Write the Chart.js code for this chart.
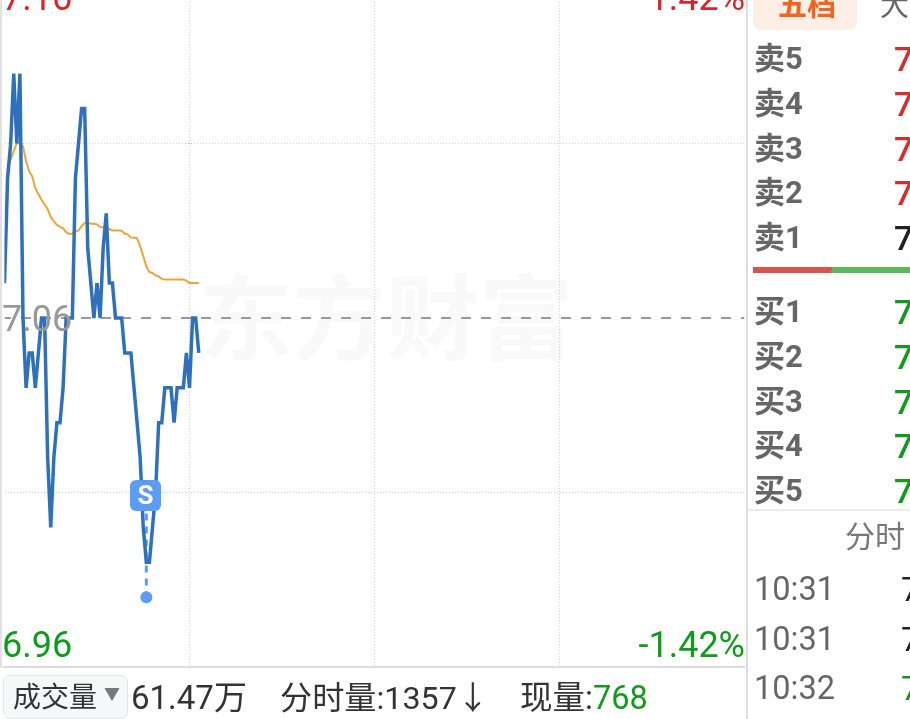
<!DOCTYPE html>
<html>
<head>
<meta charset="utf-8">
<script src="https://cdn.jsdelivr.net/npm/chart.js@4/dist/chart.umd.min.js"></script>
<style>
  html, body { margin: 0; padding: 0; background: #fff; width: 910px; height: 719px; overflow: hidden; }
  body { position: relative; font-family: Roboto, "Noto Sans CJK SC", sans-serif; }
  #chart { position: absolute; left: 0; top: -31px; }
  .t { position: absolute; white-space: nowrap; line-height: 40px; height: 40px; }
  .box { position: absolute; }
  #wm { position: absolute; left: 199px; top: 258px; font: 700 93.5px/110px "Noto Sans CJK SC"; color: #f9f9f9; white-space: nowrap; }
  #badge { position: absolute; left: 130px; top: 480px; width: 31px; height: 31px; border-radius: 6px; background: #5b9cf6;
           color: #fff; font: 700 26px/31px Roboto; text-align: center; }
</style>
</head>
<body>
<div id="wm">东方财富</div>
<canvas id="chart" width="746" height="698"></canvas>
<div class="box" style="left:0;top:0;width:2px;height:668px;background:#e2e2e2"></div>
<div class="box" style="left:3px;top:666px;width:742px;height:2px;background:#dcdcdc"></div>
<div class="box" style="left:746px;top:0;width:2px;height:719px;background:#dedede"></div>
<div id="badge">S</div>
<div id="labels"></div>
<script>
const tradePrices = [7.07, 7.10, 7.11, 7.13, 7.11, 7.13, 7.06, 7.04, 7.05, 7.05, 7.04, 7.05, 7.06, 7.06, 7.02, 7.00,
  7.02, 7.03, 7.03, 7.04, 7.06, 7.06, 7.06, 7.10, 7.11, 7.12, 7.12, 7.08, 7.07, 7.06, 7.07, 7.06,
  7.08, 7.09, 7.07, 7.07, 7.06, 7.06, 7.06, 7.05, 7.05, 7.05, 7.04, 7.03, 7.02, 7.00, 6.99, 6.99,
  7.00, 7.01, 7.03, 7.03, 7.04, 7.04, 7.04, 7.03, 7.04, 7.04, 7.04, 7.05, 7.04, 7.06, 7.06, 7.05];
const avgPrices = [7.0700, 7.1025, 7.1054, 7.1078, 7.1101, 7.1101, 7.1092, 7.1049, 7.1020, 7.1006, 7.0972, 7.0955,
  7.0939, 7.0925, 7.0912, 7.0889, 7.0877, 7.0867, 7.0861, 7.0857, 7.0846, 7.0841, 7.0842, 7.0848,
  7.0851, 7.0863, 7.0872, 7.0875, 7.0870, 7.0870, 7.0868, 7.0861, 7.0860, 7.0860, 7.0855, 7.0851,
  7.0851, 7.0851, 7.0850, 7.0842, 7.0839, 7.0831, 7.0830, 7.0829, 7.0805, 7.0777, 7.0748, 7.0732,
  7.0729, 7.0722, 7.0719, 7.0712, 7.0710, 7.0710, 7.0710, 7.0710, 7.0710, 7.0710, 7.0710, 7.0707,
  7.0700, 7.0700, 7.0700, 7.0700];
const minutes = tradePrices.map((p, i) => i);
const prevClose = 7.06;
const priceMin = 6.96;
const priceMax = 7.16;
const gridMinutes = [60, 120, 180];
const gridPrices = [7.01, 7.11];
const sellMinute = 46;
const sellPrice = 6.98;
const sellTop = 7.004;

const sellRows = ["卖5", "卖4", "卖3", "卖2", "卖1"];
const buyRows = ["买1", "买2", "买3", "买4", "买5"];
const tradeTimes = ["10:31", "10:31", "10:32"];

new Chart(document.getElementById("chart"), {
  type: "line",
  data: {
    datasets: [
      {
        data: minutes.map((m, i) => ({ x: m, y: tradePrices[i] })),
        borderColor: "#2f70ba",
        borderWidth: 3.5,
        pointRadius: 0,
        tension: 0,
      },
      {
        data: minutes.map((m, i) => ({ x: m, y: avgPrices[i] })),
        borderColor: "#eaa43c",
        borderWidth: 2,
        pointRadius: 0,
        tension: 0,
      },
      {
        data: [{ x: sellMinute, y: sellTop }, { x: sellMinute, y: sellPrice }],
        borderColor: "#5b9cf6",
        borderWidth: 3,
        borderDash: [7, 6],
        pointRadius: [0, 6],
        pointBackgroundColor: "#5b9cf6",
        pointBorderWidth: 0,
      },
      {
        data: [{ x: 0, y: prevClose }, { x: 240, y: prevClose }],
        borderColor: "#999999",
        borderWidth: 2,
        borderDash: [10, 10],
        borderDashOffset: 3.5,
        pointRadius: 0,
      },
    ],
  },
  options: {
    responsive: false,
    animation: false,
    layout: { autoPadding: false, padding: { left: 4.5, right: 1.5, top: 0, bottom: 0 } },
    plugins: { legend: { display: false }, tooltip: { enabled: false } },
    scales: {
      x: {
        type: "linear",
        min: 0,
        max: 240,
        afterBuildTicks: (axis) => { axis.ticks = gridMinutes.map((v) => ({ value: v })); },
        ticks: { display: false },
        grid: { color: "#cfcfcf", lineWidth: 1, drawTicks: false },
        border: { display: false, dash: [1, 2] },
      },
      y: {
        min: priceMin,
        max: priceMax,
        afterBuildTicks: (axis) => { axis.ticks = gridPrices.map((v) => ({ value: v })); },
        ticks: { display: false },
        grid: { color: "#cfcfcf", lineWidth: 1, drawTicks: false },
        border: { display: false, dash: [1, 2] },
      },
    },
  },
});

// all the text round the plot
const labels = document.getElementById("labels");
function put(text, x, cy, size, color, extra) {
  const el = document.createElement("div");
  el.className = "t";
  el.innerHTML = text;
  el.style.cssText = "top:" + (cy - 20) + "px;font-size:" + size + "px;color:" + color + ";" +
    (x < 0 ? "right:" + (910 + x) + "px;" : "left:" + x + "px;") + (extra || "");
  labels.appendChild(el);
}
const red = "#d7262b", green = "#129a1e";
put("7.16", 2, -2, 36, red);
put("1.42%", -745, -2, 36, red);
put("7.06", 2, 319, 36, "#999999");
put("6.96", 2, 645, 36, green);
put("-1.42%", -745, 645, 36, green);

const tab = document.createElement("div");
tab.className = "box";
tab.style.cssText = "left:753px;top:-20px;width:104px;height:50px;background:#fdeee6;border-radius:8px";
labels.appendChild(tab);
put("五档", 778, 6, 29, "#f0641e", "font-weight:700");
put("大单", 880, 6, 29, "#666666");

sellRows.forEach((s, i) => {
  put(s, 754, 59 + i * 44.8, 31, "#666666", "font-weight:700");
  put("7.08", 894, 59 + i * 44.8, 34, i < 4 ? "#d32f2f" : "#222222", "font-weight:500");
});
buyRows.forEach((s, i) => {
  put(s, 754, 312 + i * 44.8, 31, "#666666", "font-weight:700");
  put("7.05", 894, 312 + i * 44.8, 34, green, "font-weight:500");
});
const bar1 = document.createElement("div");
bar1.className = "box";
bar1.style.cssText = "left:753px;top:267px;width:157px;height:6px;background:linear-gradient(105deg,#d9534f 50%,#5cb85c 50%)";
labels.appendChild(bar1);
const sep = document.createElement("div");
sep.className = "box";
sep.style.cssText = "left:748px;top:509px;width:162px;height:2px;background:#ececec";
labels.appendChild(sep);
put("分时", 845, 537, 30, "#777777");
tradeTimes.forEach((s, i) => {
  put(s, 754, 589 + i * 49.5, 32.5, "#666666");
  put("7.06", 901, 589 + i * 49.5, 34, i < 2 ? "#222222" : green);
});

const sel = document.createElement("div");
sel.className = "box";
sel.style.cssText = "left:3px;top:675px;width:123px;height:42px;background:#f6f7f9;border:1px solid #e6e6e6;border-radius:7px";
labels.appendChild(sel);
put("成交量", 13, 697.5, 28, "#333333");
put("▼", 104, 695, 16, "#777777");
put("61.47万", 131, 698, 33, "#333333");
put("分时量:1357↓", 280, 698, 32.2, "#333333");
put('现量:<span style="color:' + green + '">768</span>', 520, 698, 32.5, "#333333");
</script>
</body>
</html>
